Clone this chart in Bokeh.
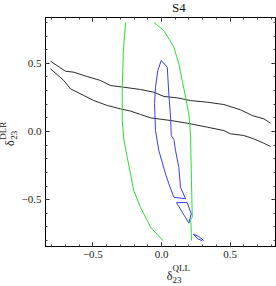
from bokeh.plotting import figure
from bokeh.models import Range1d, LinearAxis, SingleIntervalTicker, Label, Div
from bokeh.layouts import column
from bokeh.embed import file_html
from bokeh.resources import INLINE

# ---------------- data ----------------
black_upper_x = [-0.808, -0.699, -0.639, -0.541, -0.444, -0.372, -0.275, -0.153, -0.056, 0.017,
                 0.114, 0.211, 0.333, 0.454, 0.576, 0.661, 0.745, 0.794]
black_upper_y = [0.515, 0.442, 0.435, 0.403, 0.374, 0.337, 0.325, 0.308, 0.288, 0.257,
                 0.247, 0.227, 0.215, 0.198, 0.159, 0.117, 0.093, 0.061]

black_lower_x = [-0.808, -0.712, -0.663, -0.566, -0.493, -0.395, -0.299, -0.226, -0.153, -0.080,
                 0.066, 0.187, 0.333, 0.454, 0.503, 0.599, 0.672, 0.745, 0.794]
black_lower_y = [0.460, 0.374, 0.313, 0.264, 0.227, 0.191, 0.166, 0.150, 0.125, 0.100,
                 0.081, 0.061, 0.032, 0.007, -0.017, -0.029, -0.054, -0.086, -0.110]

green_left_x = [-0.262, -0.279, -0.286, -0.286, -0.275, -0.250, -0.226, -0.202, -0.153, -0.104,
                -0.080, -0.031, 0.012]
green_left_y = [0.800, 0.570, 0.325, 0.081, -0.054, -0.188, -0.310, -0.433, -0.557, -0.652,
                -0.702, -0.755, -0.800]

green_right_x = [-0.056, 0.017, 0.090, 0.126, 0.151, 0.175, 0.199, 0.211, 0.218, 0.224,
                 0.211, 0.215, 0.218]
green_right_y = [0.800, 0.740, 0.618, 0.496, 0.374, 0.251, 0.130, -0.017, -0.359, -0.628,
                 -0.647, -0.689, -0.800]

blue_main_x = [-0.002, 0.042, 0.053, 0.066, 0.071, 0.090, 0.102, 0.126, 0.138, 0.175,
               0.090, 0.053, 0.029, -0.020, -0.044, -0.051, -0.044, -0.027, -0.002]
blue_main_y = [0.521, 0.471, 0.276, 0.105, -0.029, -0.059, -0.139, -0.262, -0.408, -0.493,
               -0.482, -0.383, -0.310, -0.139, 0.007, 0.205, 0.325, 0.447, 0.521]

blue_mid_x = [0.109, 0.187, 0.216, 0.199, 0.109]
blue_mid_y = [-0.521, -0.521, -0.603, -0.672, -0.521]

blue_low_x = [0.308, 0.272, 0.230, 0.264, 0.296]
blue_low_y = [-0.800, -0.770, -0.752, -0.787, -0.800]

tick_values = [-0.5, 0.0, 0.5]
tick_labels = ["\u22120.5", "0.0", "0.5"]
title_text = "S4"
x_label_main, x_label_sup, x_label_sub = "\u03b4", "QLL", "23"
y_label_main, y_label_sup, y_label_sub = "\u03b4", "DLR", "23"

# ---------------- layout ----------------
W, H = 276, 286
BL, BR, BT, BB = 45, 1, 17, 40
x_range = Range1d(-0.845, 0.830)
y_range = Range1d(-0.843, 0.836)
SERIF = "Liberation Serif"

p = figure(width=W, height=H, x_range=x_range, y_range=y_range,
           output_backend="svg", toolbar_location=None,
           x_axis_type=None, y_axis_type=None,
           min_border_left=BL, min_border_right=BR, min_border_top=BT, min_border_bottom=BB)
p.grid.visible = False
p.outline_line_color = "black"
p.outline_line_width = 1
p.background_fill_color = "white"
p.border_fill_color = "white"


def make_axis(show_labels):
    ax = LinearAxis(ticker=SingleIntervalTicker(interval=0.5, num_minor_ticks=5))
    ax.major_tick_in = 4
    ax.major_tick_out = 0
    ax.minor_tick_in = 2
    ax.minor_tick_out = 0
    ax.axis_line_color = "black"
    ax.major_tick_line_color = "#222222"
    ax.minor_tick_line_color = "#444444"
    if show_labels:
        ax.major_label_overrides = dict(zip(tick_values, tick_labels))
        ax.major_label_text_font = SERIF
        ax.major_label_text_font_size = "11px"
        ax.major_label_text_color = "#222222"
        ax.major_label_standoff = 4
    else:
        ax.major_label_text_alpha = 0
        ax.major_label_text_font_size = "1px"
        ax.major_label_standoff = 0
    return ax


p.add_layout(make_axis(True), "left")
p.add_layout(make_axis(True), "below")
p.add_layout(make_axis(False), "right")
p.add_layout(make_axis(False), "above")

BLACK = "#2b2b2b"
GREEN = "#2fdc2f"
BLUE = "#3c3cf5"

p.line(black_upper_x, black_upper_y, line_color=BLACK, line_width=1)
p.line(black_lower_x, black_lower_y, line_color=BLACK, line_width=1)
p.line(green_left_x, green_left_y, line_color=GREEN, line_width=1)
p.line(green_right_x, green_right_y, line_color=GREEN, line_width=1)
p.line(blue_main_x, blue_main_y, line_color=BLUE, line_width=1)
p.line(blue_mid_x, blue_mid_y, line_color=BLUE, line_width=1)
p.line(blue_low_x, blue_low_y, line_color=BLUE, line_width=1)

# ---------------- text overlay (pixel space from bottom-left, transparent) ----------------
t = figure(width=W, height=H, x_range=Range1d(0, W), y_range=Range1d(0, H),
           output_backend="svg", toolbar_location=None,
           x_axis_type=None, y_axis_type=None, min_border=0,
           margin=(-H, 0, 0, 0))
t.grid.visible = False
t.outline_line_color = None
t.background_fill_color = None
t.border_fill_color = None


def add_label(px, py, text, size, align="center"):
    t.add_layout(Label(x=px, y=H - py, text=text, text_font=SERIF, text_font_size=size,
                       text_align=align, text_baseline="middle", text_color="#111111"))


# title
add_label(160, 7, title_text, "13px")
# x axis label
add_label(149, 275, x_label_main, "12px")
add_label(152.5, 267.5, x_label_sup, "9px", align="left")
add_label(152.5, 279.5, x_label_sub, "9px", align="left")

# y axis label: HTML text rotated by CSS (reads bottom to top)
BOX_W, BOX_H = 40, 18
CX, CY = 10, 126          # centre of the rotated label box on the page
box_top = CY - BOX_H // 2
ylab_html = (
    "<div style=\"display:flex;align-items:center;height:%dpx;width:%dpx;white-space:nowrap;"
    "font-family:'Liberation Serif',serif;color:#111111;\">"
    "<span style=\"font-size:12px;line-height:12px;\">%s</span>"
    "<span style=\"display:inline-flex;flex-direction:column;font-size:9px;line-height:11px;"
    "position:relative;top:-1px;margin-left:0.5px;\">"
    "<span>%s</span><span>%s</span></span></div>"
) % (BOX_H, BOX_W, y_label_main, y_label_sup, y_label_sub)
ydiv = Div(text=ylab_html, width=BOX_W, height=BOX_H,
           margin=(-(H - box_top), 0, H - box_top - BOX_H, CX - BOX_W // 2),
           styles={"transform": "rotate(-90deg)", "transform-origin": "50% 50%"})

page = column(p, t, ydiv, spacing=0)
open("out.html", "w").write(file_html(page, INLINE))
